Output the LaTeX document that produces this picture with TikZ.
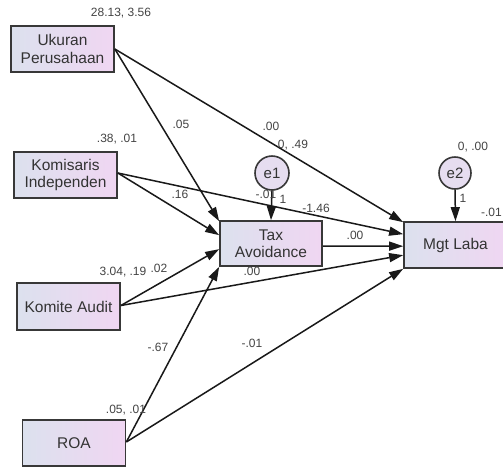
\documentclass[tikz,border=0pt]{standalone}
\usepackage{fontspec}
\setmainfont{Liberation Sans}
\usetikzlibrary{arrows.meta,calc}
\definecolor{boxL}{HTML}{DCE1EE}
\definecolor{boxR}{HTML}{F0D6F2}
\definecolor{edge}{HTML}{383838}
\definecolor{txt}{HTML}{333333}
\definecolor{lbl}{HTML}{444444}
\definecolor{errfill}{HTML}{E6DDF0}
\tikzset{
  var/.style={draw=edge, line width=1.7pt, left color=boxL, right color=boxR,
    minimum width=103pt, minimum height=46pt, inner sep=0pt, align=center,
    font=\fontsize{15.5}{17.5}\selectfont, text=txt},
  err/.style={circle, draw=edge, line width=1.6pt, fill=errfill, minimum size=33pt,
    inner sep=0pt, font=\fontsize{15}{17}\selectfont, text=txt},
  lab/.style={inner sep=0pt, font=\fontsize{12}{13}\selectfont, text=lbl},
  path/.style={draw=black!90, line width=1.5pt, -{Triangle[length=14pt,width=9pt]}}
}
\begin{document}
\begin{tikzpicture}[x=1pt,y=-1pt]
\useasboundingbox (0,0) rectangle (503,467);
\clip (0,0) rectangle (503,467);
\fill[white] (0,0) rectangle (503,467);

\node[var] (uk) at (62.5,49) {Ukuran\\Perusahaan};
\node[var] (kom) at (65.5,175) {Komisaris\\Independen};
\node[var, minimum height=47pt] (ka) at (68.5,306.5) {Komite Audit};
\node[var] (roa) at (74,443) {ROA};
\node[var, minimum width=102pt, minimum height=45pt] (tax) at (271,243.5) {Tax\\Avoidance};
\node[var] (mgt) at (455.5,245) {Mgt Laba};
\node[err, minimum size=34pt] (e1) at (272,173) {e1};
\node[err, minimum size=32pt] (e2) at (455,173) {e2};

\coordinate (t1) at ($(tax.north west)+(0,1)$);
\coordinate (t2) at ($(tax.north west)+(0,15)$);
\coordinate (t3) at ($(tax.north west)+(0,29)$);
\coordinate (t4) at (tax.south west);
\coordinate (m1) at ($(mgt.north west)+(0,1)$);
\coordinate (m2) at ($(mgt.north west)+(0,13)$);
\coordinate (m3) at ($(mgt.north west)+(0,25)$);
\coordinate (m4) at ($(mgt.north west)+(0,34)$);
\coordinate (m5) at (mgt.south west);
\coordinate (tx) at ($(tax.east)+(0,2.5)$);

\draw[path] (uk.east) -- (t1);
\draw[path] (uk.east) -- (m1);
\draw[path] ($(kom.east)+(0,-2)$) -- (t2);
\draw[path] ($(kom.east)+(0,-2)$) -- (m2);
\draw[path] ($(ka.east)+(0,-1)$) -- (t3);
\draw[path] ($(ka.east)+(0,-1)$) -- (m4);
\draw[path] ($(roa.east)+(0,-1)$) -- (t4);
\draw[path] ($(roa.east)+(0,-1)$) -- (m5);
\draw[path] (tx) -- (m3);
\draw[path] (e1.south) -- (tax.north);
\draw[path] (e2.south) -- (mgt.north);

\node[lab] (l1) at (121,13) {28.13, 3.56};
\node[lab] (l2) at (117,139) {.38, .01};
\node[lab] (l3) at (123,272) {3.04, .19};
\node[lab] (l4) at (159,268) {.02};
\node[lab] (l5) at (126,410) {.05, .01};
\node[lab] (l6) at (181,124) {.05};
\node[lab] (l7) at (271,126) {.00};
\node[lab] (l8) at (293,145) {0, .49};
\node[lab] (l9) at (180,194) {.16};
\node[lab] (l10) at (266,194) {-.01};
\node[lab] (l11) at (283,199) {1};
\node[lab] (l12) at (316,208) {-1.46};
\node[lab] (l13) at (355,235) {.00};
\node[lab] (l14) at (252,271) {.00};
\node[lab] (l15) at (473,147) {0, .00};
\node[lab] (l16) at (463,198) {1};
\node[lab, anchor=east] (l17) at (502,212) {-.01};
\node[lab] (l18) at (158,347) {-.67};
\node[lab] (l19) at (252,343) {-.01};
\end{tikzpicture}
\end{document}
